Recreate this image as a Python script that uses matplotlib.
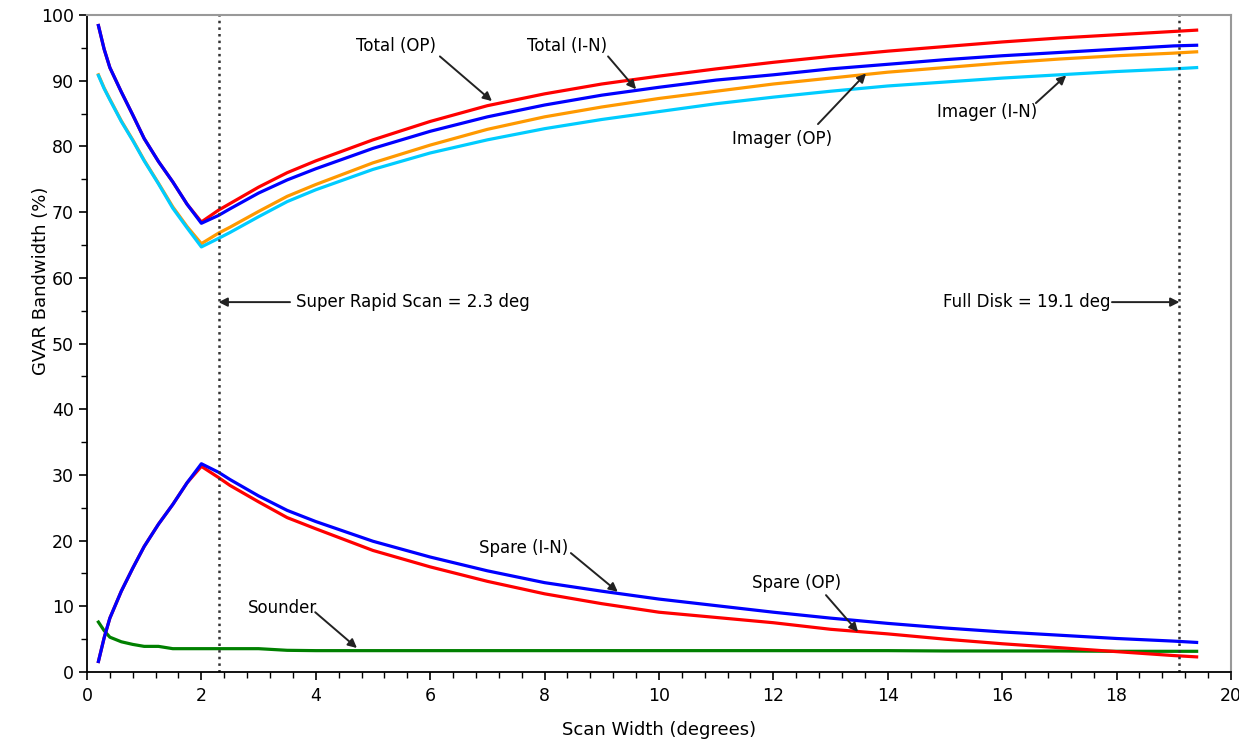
import matplotlib
matplotlib.use("Agg")
import matplotlib.pyplot as plt
from matplotlib.ticker import MultipleLocator

plt.rcParams['font.family'] = ['DejaVu Sans']

# scan width (degrees)
scan = [0.2, 0.3, 0.4, 0.6, 0.8, 1.0, 1.25, 1.5, 1.75, 2.0, 2.3, 2.5, 3.0, 3.5, 4.0,
        5.0, 6.0, 7.0, 8.0, 9.0, 10.0, 11.0, 12.0, 13.0, 14.0, 15.0, 16.0,
        17.0, 18.0, 19.0, 19.4]

total_op = [98.4, 94.8, 92.0, 88.3, 84.8, 81.2, 77.7, 74.6, 71.2, 68.5, 70.3, 71.3, 73.8,
            76.0, 77.8, 81.0, 83.8, 86.2, 88.0, 89.5, 90.7, 91.8, 92.8, 93.7,
            94.5, 95.2, 95.9, 96.5, 97.0, 97.5, 97.7]
total_in = [98.4, 94.8, 92.0, 88.3, 84.8, 81.2, 77.7, 74.6, 71.2, 68.3, 69.5, 70.5, 72.9,
            74.9, 76.6, 79.7, 82.3, 84.5, 86.3, 87.8, 89.0, 90.1, 90.9, 91.8,
            92.5, 93.2, 93.8, 94.3, 94.8, 95.3, 95.4]
imager_op = [90.9, 88.9, 87.2, 83.9, 81.0, 77.9, 74.4, 70.8, 67.8, 65.2, 66.8, 67.7, 70.1,
             72.4, 74.2, 77.5, 80.2, 82.6, 84.5, 86.0, 87.3, 88.4, 89.5, 90.4,
             91.3, 92.0, 92.7, 93.3, 93.8, 94.2, 94.4]
imager_in = [90.8, 88.8, 87.1, 83.8, 80.9, 77.8, 74.3, 70.6, 67.6, 64.7, 66.0, 66.9, 69.3,
             71.6, 73.4, 76.5, 79.0, 81.0, 82.7, 84.1, 85.3, 86.5, 87.5, 88.4,
             89.2, 89.8, 90.4, 90.9, 91.4, 91.8, 92.0]
spare_in = [1.6, 5.2, 8.2, 12.3, 15.8, 19.1, 22.5, 25.5, 28.8, 31.7, 30.4, 29.3, 26.8,
            24.6, 22.9, 19.9, 17.5, 15.4, 13.6, 12.3, 11.1, 10.1, 9.1, 8.2,
            7.4, 6.7, 6.1, 5.6, 5.1, 4.7, 4.5]
spare_op = [1.6, 5.2, 8.2, 12.3, 15.8, 19.1, 22.5, 25.5, 28.8, 31.3, 29.6, 28.4, 25.9,
            23.5, 21.8, 18.5, 16.0, 13.8, 11.9, 10.4, 9.1, 8.3, 7.5, 6.5,
            5.8, 5.0, 4.3, 3.7, 3.1, 2.5, 2.3]
sounder = [7.6, 6.3, 5.3, 4.6, 4.2, 3.9, 3.9, 3.55, 3.55, 3.55, 3.55, 3.55, 3.55,
           3.3, 3.25, 3.25, 3.25, 3.25, 3.25, 3.25, 3.25, 3.25, 3.25, 3.25,
           3.25, 3.2, 3.2, 3.2, 3.15, 3.15, 3.15]

fig = plt.figure(figsize=(12.39, 7.40), dpi=100)
ax = fig.add_axes([0.0702, 0.0919, 0.9233, 0.8878])

lw = 2.3
ax.plot(scan, imager_op, color='#ff9900', lw=lw)
ax.plot(scan, imager_in, color='#00ccff', lw=lw)
ax.plot(scan, total_op, color='#ff0000', lw=lw)
ax.plot(scan, total_in, color='#0000ff', lw=lw)
ax.plot(scan, sounder, color='#008000', lw=lw)
ax.plot(scan, spare_op, color='#ff0000', lw=lw)
ax.plot(scan, spare_in, color='#0000ff', lw=lw)

# reference scan widths
ax.axvline(2.3, color='#333333', lw=1.8, ls=':')
ax.axvline(19.1, color='#333333', lw=1.8, ls=':')

ax.set_xlim(0, 20)
ax.set_ylim(0, 100)
ax.xaxis.set_major_locator(MultipleLocator(2))
ax.xaxis.set_minor_locator(MultipleLocator(0.4))
ax.yaxis.set_major_locator(MultipleLocator(10))
ax.yaxis.set_minor_locator(MultipleLocator(5))
ax.tick_params(which='major', length=6, width=1.2, direction='out', labelsize=12.5)
ax.tick_params(which='minor', length=4, width=1.0, direction='out')
ax.tick_params(axis='x', pad=5)

for s in ['top', 'right']:
    ax.spines[s].set_color('#999999')
    ax.spines[s].set_linewidth(1.5)
for s in ['left', 'bottom']:
    ax.spines[s].set_linewidth(1.3)

ax.set_xlabel('Scan Width (degrees)', fontsize=13, labelpad=11)
ax.set_ylabel('GVAR Bandwidth (%)', fontsize=13, labelpad=8)
ax.yaxis.set_label_coords(-0.032, 0.595)

arrow = dict(arrowstyle='-|>', color='#222222', lw=1.4, mutation_scale=13,
             shrinkA=0, shrinkB=0)

# (label, text position, arrow start, arrow tip)
notes = [
    ('Total (OP)', (5.40, 95.25), (6.17, 93.7), (7.08, 86.9)),
    ('Total (I-N)', (8.39, 95.25), (9.11, 93.7), (9.60, 88.7)),
    ('Imager (OP)', (12.15, 81.2), (12.78, 83.4), (13.62, 91.1)),
    ('Imager (I-N)', (15.73, 85.2), (16.59, 86.6), (17.12, 90.8)),
    ('Spare (I-N)', (7.64, 18.9), (8.46, 18.1), (9.28, 12.2)),
    ('Spare (OP)', (12.41, 13.5), (12.92, 11.7), (13.48, 6.1)),
    ('Sounder', (3.41, 9.7), (3.99, 9.1), (4.72, 3.65)),
]
for label, txt, start, tip in notes:
    ax.text(txt[0], txt[1], label, fontsize=12, ha='center', va='center')
    ax.annotate('', xy=tip, xytext=start, arrowprops=arrow)

ax.text(3.65, 56.3, 'Super Rapid Scan = 2.3 deg', fontsize=12, ha='left', va='center')
ax.annotate('', xy=(2.3, 56.3), xytext=(3.55, 56.3), arrowprops=arrow)
ax.text(17.9, 56.3, 'Full Disk = 19.1 deg', fontsize=12, ha='right', va='center')
ax.annotate('', xy=(19.1, 56.3), xytext=(17.92, 56.3), arrowprops=arrow)

fig.savefig('out.png', dpi=100)
